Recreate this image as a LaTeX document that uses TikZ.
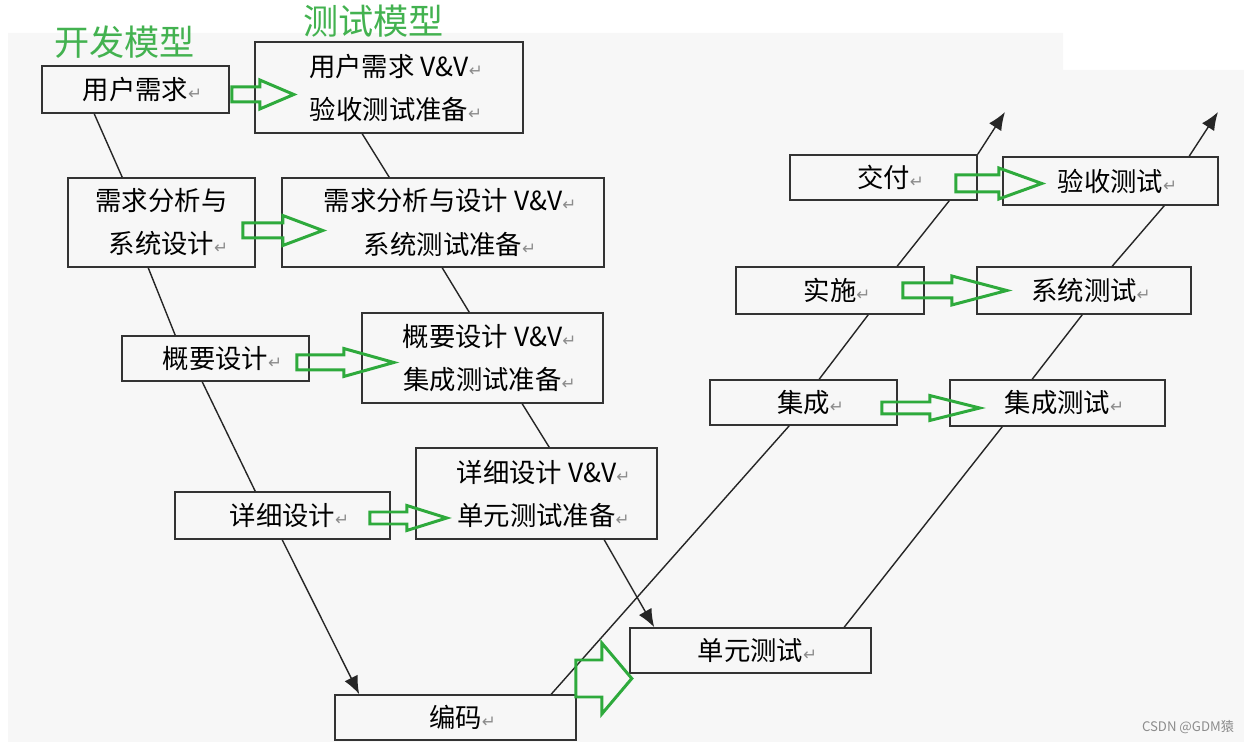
\documentclass[tikz,border=0pt]{standalone}
\usepackage{fontspec}
\setmainfont{Noto Sans CJK SC}
\newfontfamily\retfont{DejaVu Sans}
\usepackage{xcolor}
\usepackage{tikz}
\usetikzlibrary{arrows.meta,positioning,calc}
\definecolor{vgreen}{RGB}{46,170,60}
\definecolor{bggray}{RGB}{247,247,247}
\newcommand{\pmk}{\rlap{\retfont\fontsize{9.5}{9.5}\selectfont\color{black!45}↵}}
% hollow green block arrow: start, length, head length, shaft half width, head half width
\newcommand{\garrow}[5]{\draw[garrowline,shift={#1}] (0,-#4) -- ({#2-#3},-#4) -- ({#2-#3},-#5) -- (#2,0) -- ({#2-#3},#5) -- ({#2-#3},#4) -- (0,#4) -- cycle;}

\begin{document}
\begin{tikzpicture}[
  box/.style={draw=black!80, line width=0.9pt, align=center, inner sep=0pt, font=\fontsize{15}{24.5}\selectfont},
  vline/.style={draw=black!85, line width=0.8pt},
  varrow/.style={vline, -{Latex[length=3.6mm,width=2.9mm]}},
  garrowline/.style={draw=vgreen, line width=1.7pt, line join=miter},
  title/.style={text=vgreen!90!white, font=\fontsize{20}{20}\selectfont},
]
\useasboundingbox (0,0) rectangle (24.88,14.84);
\fill[bggray] (0.16,14.18) -- (21.26,14.18) -- (21.26,13.44) -- (24.88,13.44) -- (24.88,0) -- (0.16,0) -- cycle;

% titles
\node[title] (devtitle) at (2.49,13.99) {开发模型};
\node[title] (tsttitle) at (7.47,14.42) {测试模型};

% development side
\node[box, minimum width=3.74cm, minimum height=0.94cm] (req) at (2.71,13.05) {用户需求\pmk};
\node[box, minimum width=3.74cm, minimum height=1.78cm] (ana) at (3.23,10.39) {需求分析与\\系统设计\pmk};
\node[box, minimum width=3.74cm, minimum height=0.90cm] (hld) at (4.31,7.67) {概要设计\pmk};
\node[box, minimum width=4.30cm, minimum height=0.94cm] (dld) at (5.65,4.53) {详细设计\pmk};
\node[box, minimum width=4.82cm, minimum height=0.90cm] (code) at (9.11,0.49) {编码\pmk};
\node[box, minimum width=3.74cm, minimum height=0.90cm] (integ) at (16.07,6.79) {集成\pmk};
\node[box, minimum width=3.76cm, minimum height=0.94cm] (impl) at (16.60,9.03) {实施\pmk};
\node[box, minimum width=3.74cm, minimum height=0.90cm] (deliv) at (17.67,11.29) {交付\pmk};

% test side
\node[box, minimum width=5.36cm, minimum height=1.82cm] (reqvv) at (7.78,13.09) {用户需求 V\&V\pmk\\验收测试准备\pmk};
\node[box, minimum width=6.44cm, minimum height=1.78cm] (anavv) at (8.86,10.39) {需求分析与设计 V\&V\pmk\\系统测试准备\pmk};
\node[box, minimum width=4.82cm, minimum height=1.80cm] (hldvv) at (9.65,7.68) {概要设计 V\&V\pmk\\集成测试准备\pmk};
\node[box, minimum width=4.82cm, minimum height=1.82cm] (dldvv) at (10.73,4.97) {详细设计 V\&V\pmk\\单元测试准备\pmk};
\node[box, minimum width=4.82cm, minimum height=0.90cm] (unit) at (15.01,1.83) {单元测试\pmk};
\node[box, minimum width=4.30cm, minimum height=0.92cm] (integt) at (21.15,6.78) {集成测试\pmk};
\node[box, minimum width=4.28cm, minimum height=0.94cm] (syst) at (21.68,9.03) {系统测试\pmk};
\node[box, minimum width=4.30cm, minimum height=0.96cm] (acct) at (22.21,11.22) {验收测试\pmk};

\coordinate (tipA) at (20.10,12.60);
\coordinate (tipB) at (24.36,12.60);

% down the left arm
\draw[vline] ([xshift=1.06cm]req.south west) -- ([xshift=1.10cm]ana.north west);
\draw[vline] ([xshift=1.62cm]ana.south west) -- ([xshift=1.08cm]hld.north west);
\draw[vline] ([xshift=1.62cm]hld.south west) -- ([xshift=1.62cm]dld.north west);
\draw[varrow] ([xshift=2.16cm]dld.south west) -- ([xshift=0.50cm]code.north west);
\draw[vline] ([xshift=2.16cm]reqvv.south west) -- ([xshift=2.16cm]anavv.north west);
\draw[vline] ([xshift=3.22cm]anavv.south west) -- ([xshift=2.16cm]hldvv.north west);
\draw[vline] ([xshift=3.22cm]hldvv.south west) -- ([xshift=2.68cm]dldvv.north west);
\draw[varrow] ([xshift=3.78cm]dldvv.south west) -- ([xshift=0.50cm]unit.north west);

% up the right arm
\draw[vline] ([xshift=4.34cm]code.north west) -- ([xshift=1.60cm]integ.south west);
\draw[vline] ([xshift=2.20cm]integ.north west) -- ([xshift=2.66cm]impl.south west);
\draw[vline] ([xshift=3.24cm]impl.north west) -- ([xshift=3.20cm]deliv.south west);
\draw[varrow] (deliv.north east) -- (tipA);
\draw[vline] ([xshift=4.30cm]unit.north west) -- ([xshift=1.06cm]integt.south west);
\draw[vline] ([xshift=1.66cm]integt.north west) -- ([xshift=2.12cm]syst.south west);
\draw[vline] ([xshift=2.72cm]syst.north west) -- ([xshift=3.24cm]acct.south west);
\draw[varrow] ([xshift=3.74cm]acct.north west) -- (tipB);

% green block arrows
\coordinate (g1) at ([shift={(0.04,-0.10)}]req.east);
\coordinate (g2) at ([shift={(-0.26,-0.16)}]ana.east);
\coordinate (g3) at ([shift={(-0.26,-0.08)}]hld.east);
\coordinate (g4) at ([shift={(-0.42,-0.05)}]dld.east);
\coordinate (g5) at ([shift={(-0.02,0.78)}]code.east);
\coordinate (g6) at ([shift={(-0.32,-0.11)}]integ.east);
\coordinate (g7) at ([shift={(-0.44,0)}]impl.east);
\coordinate (g8) at ([shift={(-0.44,-0.12)}]deliv.east);
\garrow{(g1)}{1.24}{0.68}{0.15}{0.29}
\garrow{(g2)}{1.60}{0.80}{0.15}{0.30}
\garrow{(g3)}{1.94}{1.00}{0.15}{0.28}
\garrow{(g4)}{1.54}{0.80}{0.12}{0.25}
\garrow{(g5)}{1.12}{0.60}{0.37}{0.71}
\garrow{(g6)}{1.96}{1.00}{0.12}{0.25}
\garrow{(g7)}{2.08}{1.10}{0.15}{0.29}
\garrow{(g8)}{1.72}{0.86}{0.17}{0.31}

\node[font=\fontsize{7.5}{8}\selectfont, text=black!45] (mark) at (23.76,0.30) {CSDN @GDM猿};
\end{tikzpicture}
\end{document}
